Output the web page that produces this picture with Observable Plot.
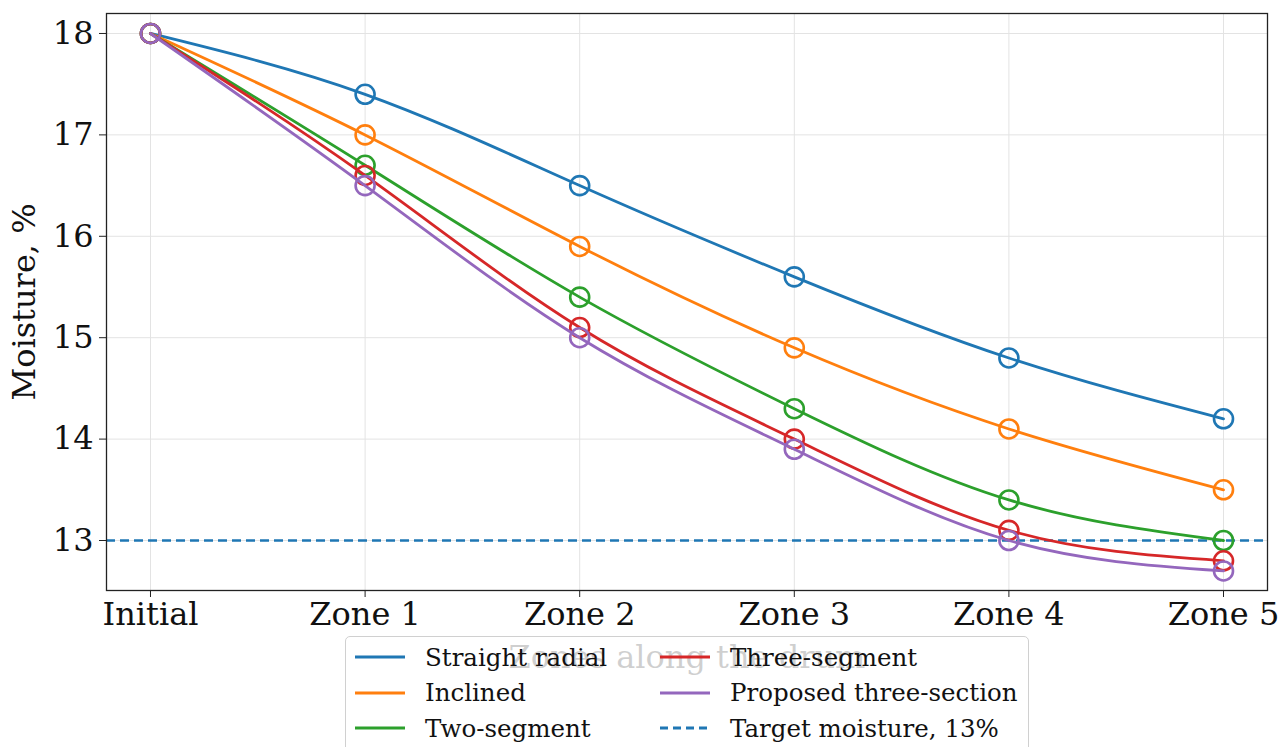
<!DOCTYPE html>
<html><head><meta charset="utf-8">
<script src="https://cdn.jsdelivr.net/npm/d3@7"></script>
<script src="https://cdn.jsdelivr.net/npm/@observablehq/plot@0.6"></script>
<style>
body{margin:0;background:#fff;font-family:"DejaVu Serif",serif;}
#wrap{position:relative;width:1280px;height:747px;overflow:hidden;background:#fff}
#legend{position:absolute;left:345px;top:636px;width:684px;height:130px;background:rgba(255,255,255,0.8);border:1.5px solid #d0d0d0;border-radius:5px;box-sizing:border-box;font-size:24.5px;color:#111}
.item{position:absolute;display:flex;align-items:center;white-space:nowrap}
.item svg{margin-right:20px}
</style></head><body><div id="wrap"><div id="legend"></div></div>
<script>
const zones = ["Initial","Zone 1","Zone 2","Zone 3","Zone 4","Zone 5"];
const straightRadial = [18.0,17.4,16.5,15.6,14.8,14.2];
const inclined = [18.0,17.0,15.9,14.9,14.1,13.5];
const twoSegment = [18.0,16.7,15.4,14.3,13.4,13.0];
const threeSegment = [18.0,16.6,15.1,14.0,13.1,12.8];
const proposed = [18.0,16.5,15.0,13.9,13.0,12.7];
const targetMoisture = 13;
const yTicks = [13,14,15,16,17,18];
const seriesNames = ["Straight radial","Inclined","Two-segment","Three-segment","Proposed three-section"];
const seriesValues = [straightRadial, inclined, twoSegment, threeSegment, proposed];
const colors = ["#1f77b4","#ff7f0e","#2ca02c","#d62728","#9467bd"];
const targetLabel = "Target moisture, 13%";
const xLabel = "Zones along the drum";
const yLabel = "Moisture, %";

const rows = [];
seriesNames.forEach((s, k) => seriesValues[k].forEach((v, i) => rows.push({series: s, i, v})));
const xTicks = zones.map((z, i) => i);

const marks = [
  Plot.gridX(xTicks, {stroke: "#e3e3e3", strokeOpacity: 1, strokeWidth: 1}),
  Plot.gridY(yTicks, {stroke: "#e3e3e3", strokeOpacity: 1, strokeWidth: 1}),
  Plot.axisX(xTicks, {tickFormat: i => zones[i], tickSize: 7, tickPadding: 5, label: null, fontSize: 32, stroke: "#222"}),
  Plot.axisY(yTicks, {tickFormat: d => String(d), tickSize: 7, tickPadding: 6, label: null, fontSize: 32, stroke: "#222"}),
  Plot.ruleY([targetMoisture], {stroke: colors[0], strokeWidth: 2.6, strokeDasharray: "9,5"})
];
seriesNames.forEach((s, k) => {
  const d = rows.filter(r => r.series === s);
  marks.push(Plot.line(d, {x: "i", y: "v", stroke: "series", curve: "natural", strokeWidth: 2.8}));
  marks.push(Plot.dot(d, {x: "i", y: "v", stroke: "series", r: 9.5, strokeWidth: 2.6, fill: "none"}));
});
marks.push(Plot.text([xLabel], {frameAnchor: "bottom", dy: 67, text: d => d, fontSize: 32, fill: "#111", textAnchor: "middle", lineAnchor: "middle"}));
marks.push(Plot.text([yLabel], {frameAnchor: "left", dx: -82, rotate: -90, text: d => d, fontSize: 32, fill: "#111", textAnchor: "middle", lineAnchor: "middle"}));
marks.push(Plot.frame({stroke: "#222", strokeWidth: 1.3}));

const plot = Plot.plot({
  width: 1280, height: 747,
  marginLeft: 106, marginRight: 13, marginTop: 13, marginBottom: 157,
  style: {fontFamily: "DejaVu Serif", fontSize: "32px", background: "white", color: "#111"},
  x: {type: "linear", domain: [-0.205, 5.205]},
  y: {domain: [12.507, 18.197]},
  color: {domain: seriesNames, range: colors},
  marks
});
const wrap = document.getElementById("wrap");
wrap.insertBefore(plot, wrap.firstChild);

const legend = document.getElementById("legend");
const entries = seriesNames.map((s, k) => ({label: s, color: colors[k], dash: null}));
entries.push({label: targetLabel, color: colors[0], dash: "8,5"});
entries.forEach((e, idx) => {
  const col = Math.floor(idx / 3), row = idx % 3;
  const div = document.createElement("div");
  div.className = "item";
  div.style.left = (col === 0 ? 9 : 314) + "px";
  div.style.top = (4 + row * 35.5) + "px";
  div.style.height = "32px";
  div.innerHTML = `<svg width="50" height="10"><line x1="0" x2="50" y1="5" y2="5" stroke="${e.color}" stroke-width="3" ${e.dash ? `stroke-dasharray="${e.dash}"` : ""}/></svg><span>${e.label}</span>`;
  legend.appendChild(div);
});
</script>
</body></html>
